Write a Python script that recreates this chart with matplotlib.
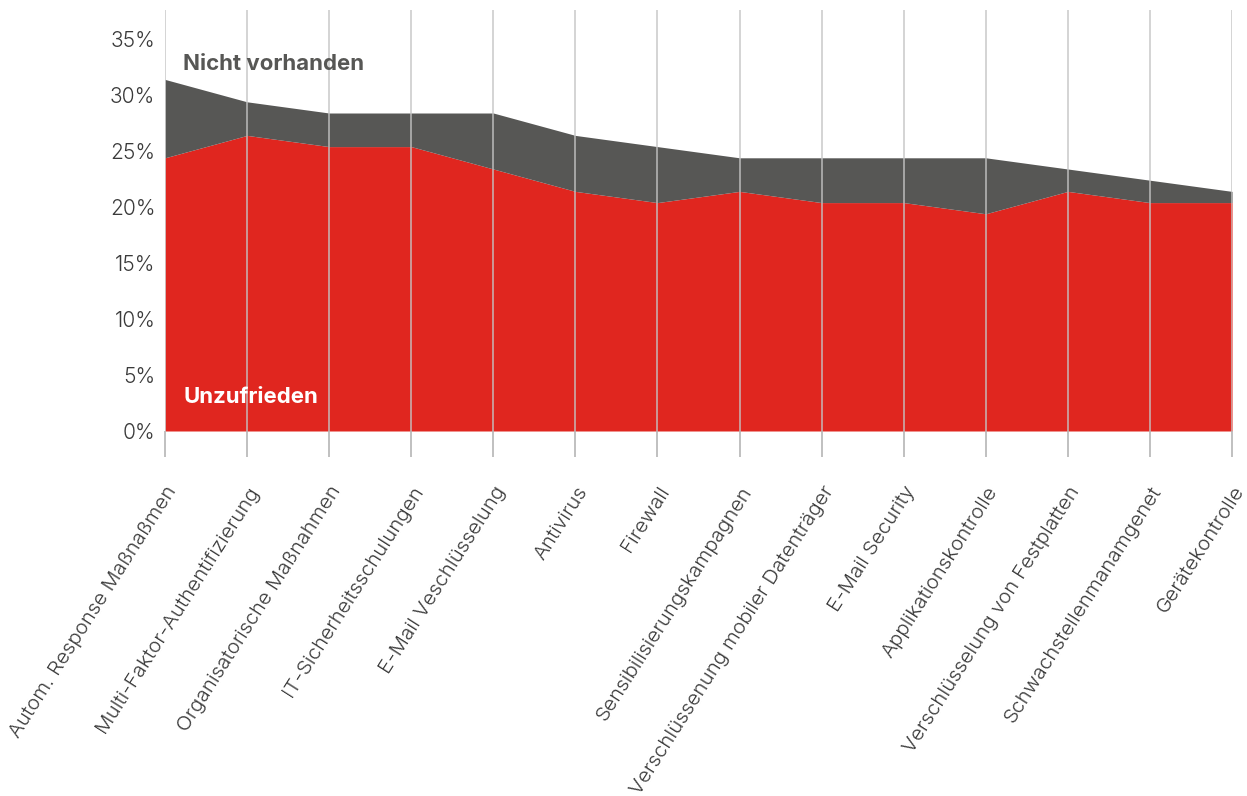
import matplotlib
matplotlib.use("Agg")
import matplotlib.pyplot as plt
from matplotlib.transforms import ScaledTranslation
import numpy as np

categories = [
    "Autom. Response Maßnaßmen",
    "Multi-Faktor-Authentifizierung",
    "Organisatorische Maßnahmen",
    "IT-Sicherheitsschulungen",
    "E-Mail Veschlüsselung",
    "Antivirus",
    "Firewall",
    "Sensibilisierungskampagnen",
    "Verschlüssenung mobiler Datenträger",
    "E-Mail Security",
    "Applikationskontrolle",
    "Verschlüsselung von Festplatten",
    "Schwachstellenmanamgenet",
    "Gerätekontrolle",
]
unzufrieden = [24.4, 26.4, 25.4, 25.4, 23.4, 21.4, 20.4, 21.4, 20.4, 20.4, 19.4, 21.4, 20.4, 20.4]
nicht_vorhanden = [7.0, 3.0, 3.0, 3.0, 5.0, 5.0, 5.0, 3.0, 4.0, 4.0, 5.0, 2.0, 2.0, 1.0]
ytick_values = [0, 5, 10, 15, 20, 25, 30, 35]
ytick_labels = ["0%", "5%", "10%", "15%", "20%", "25%", "30%", "35%"]

RED = "#E0261F"
GRAY = "#575755"
FONT = "Inter"

fig = plt.figure(figsize=(12.47, 7.96), dpi=100)
ax = fig.add_axes([165 / 1247, 1 - 431 / 796, (1232 - 165) / 1247, (431 - 10) / 796])

x = np.arange(len(categories))
red = np.array(unzufrieden, dtype=float)
total = red + np.array(nicht_vorhanden, dtype=float)

ax.fill_between(x, 0, red, color=RED, linewidth=0, zorder=1)
ax.fill_between(x, red, total, color=GRAY, linewidth=0, zorder=1)

ax.set_ylim(0, 37.6)
ax.set_xlim(0, len(categories) - 1)

for s in ax.spines.values():
    s.set_visible(False)

ax.set_xticks(x)
ax.set_xticklabels(categories, rotation=57.5, ha="right", va="center",
                   rotation_mode="anchor", fontsize=14.8, color="#3a3a3a",
                   fontfamily=FONT, fontweight=300)
ax.tick_params(axis="x", length=19, width=1.2, color="#b5b5b5", pad=22)
ax.grid(axis="x", color="#c4c4c4", linewidth=1.2, alpha=0.85, zorder=3)
ax.set_axisbelow(False)
off = ScaledTranslation(8 / 100, 0, fig.dpi_scale_trans)
for lab in ax.get_xticklabels():
    lab.set_transform(lab.get_transform() + off)

ax.set_yticks(ytick_values)
ax.set_yticklabels(ytick_labels, fontsize=15, color="#3a3a3a",
                   fontfamily=FONT, fontweight=300)
ax.tick_params(axis="y", length=0, pad=7)

fig.text(183 / 1247, 1 - 64 / 796, "Nicht vorhanden", fontsize=16, fontweight="bold",
         color=GRAY, va="center", ha="left", fontfamily=FONT)
fig.text(183 / 1247, 1 - 397 / 796, "Unzufrieden", fontsize=16, fontweight="bold",
         color="white", va="center", ha="left", fontfamily=FONT)

fig.savefig("out.png", dpi=100)
